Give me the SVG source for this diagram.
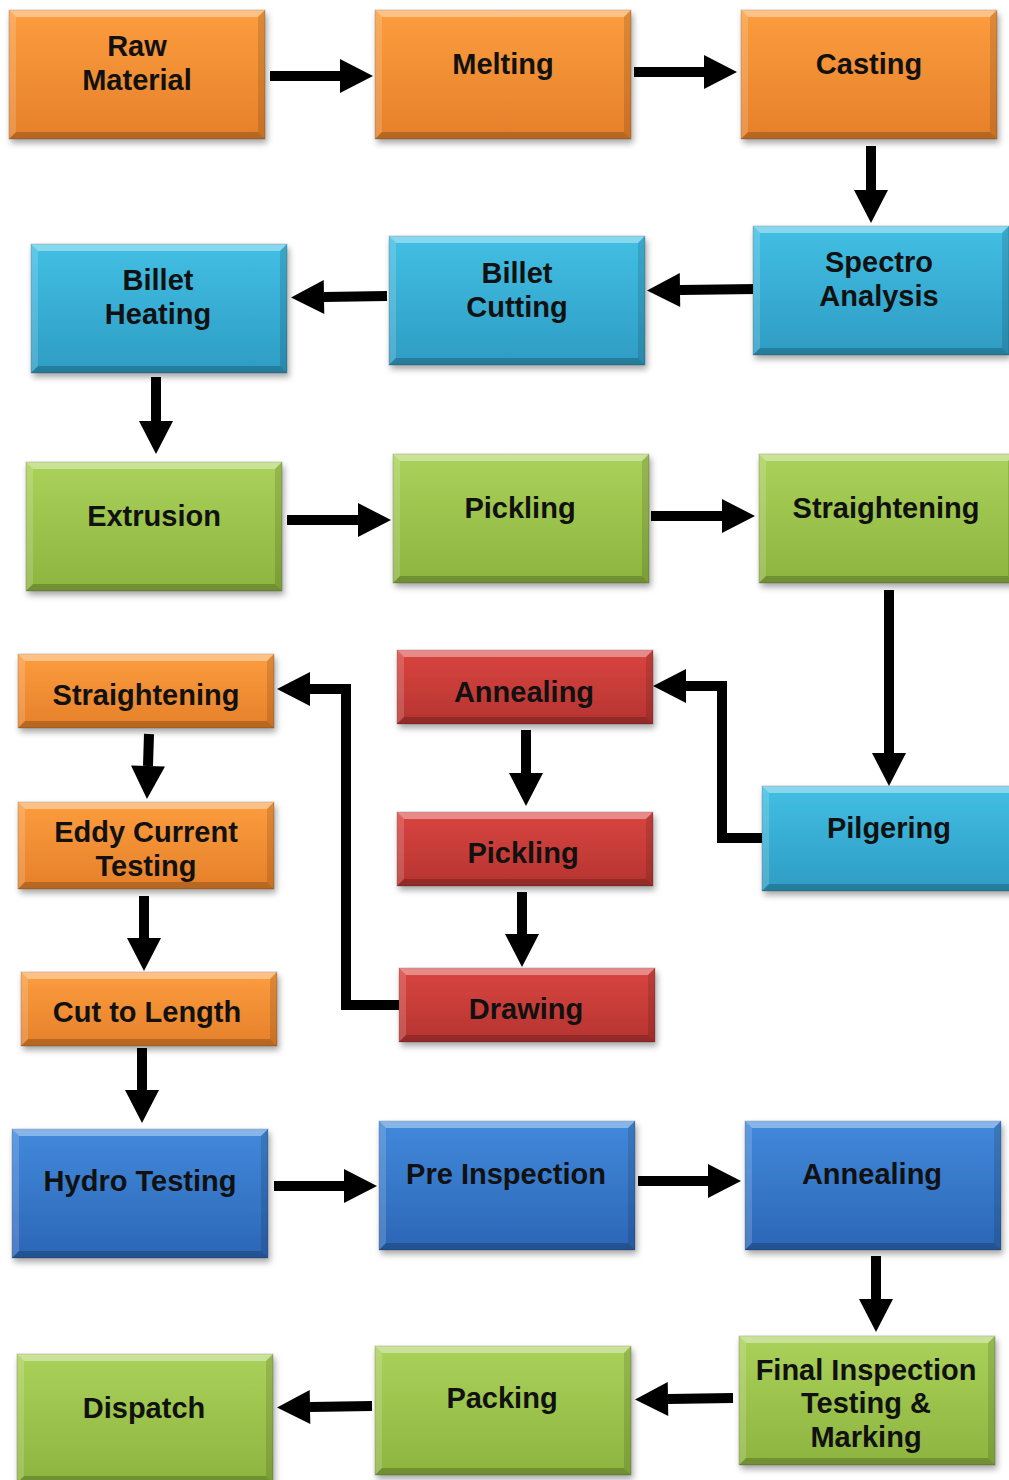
<svg xmlns="http://www.w3.org/2000/svg" xmlns:xlink="http://www.w3.org/1999/xlink" width="1009" height="1480" viewBox="0 0 1009 1480">
<style>
.box{stroke:#000;stroke-opacity:0.18;stroke-width:1}
.or{fill:url(#gOr)}
.cy{fill:url(#gCy)}
.gr{fill:url(#gGr)}
.rd{fill:url(#gRd)}
.bl{fill:url(#gBl)}
.hiT{fill:#fff;fill-opacity:0.38}
.hiL{fill:#fff;fill-opacity:0.16}
.loB{fill:#000;fill-opacity:0.2}
.loR{fill:#000;fill-opacity:0.12}
.lbl{font-family:"Liberation Sans",Arial,Helvetica,sans-serif;font-weight:bold;font-size:29px;fill:#111;text-anchor:middle}
.con{fill:none;stroke:#000;stroke-width:10;stroke-linejoin:miter;marker-end:url(#ah)}
</style>
<defs>
<linearGradient id="gOr" x1="0" y1="0" x2="0" y2="1"><stop offset="0" stop-color="#FC9D3E"/><stop offset="1" stop-color="#E5802A"/></linearGradient>
<linearGradient id="gCy" x1="0" y1="0" x2="0" y2="1"><stop offset="0" stop-color="#42BFE4"/><stop offset="1" stop-color="#2E9CC3"/></linearGradient>
<linearGradient id="gGr" x1="0" y1="0" x2="0" y2="1"><stop offset="0" stop-color="#AAD25A"/><stop offset="1" stop-color="#8DB43F"/></linearGradient>
<linearGradient id="gRd" x1="0" y1="0" x2="0" y2="1"><stop offset="0" stop-color="#D94540"/><stop offset="1" stop-color="#B63431"/></linearGradient>
<linearGradient id="gBl" x1="0" y1="0" x2="0" y2="1"><stop offset="0" stop-color="#4289DB"/><stop offset="1" stop-color="#2C66B6"/></linearGradient>
<filter id="sh" x="-10%" y="-10%" width="125%" height="135%"><feDropShadow dx="2" dy="4" stdDeviation="3" flood-color="#000" flood-opacity="0.35"/></filter>
<marker id="ah" markerUnits="userSpaceOnUse" markerWidth="34" markerHeight="34" viewBox="0 0 33 34" refX="0" refY="17" orient="auto"><path d="M0,0 L33,17 L0,34 z" fill="#000"/></marker>
<g id="bevA"><polygon class="hiT" points="0,0 256,0 249,7 7,7"/><polygon class="hiL" points="0,0 7,7 7,122 0,129"/><polygon class="loB" points="0,129 256,129 249,122 7,122"/><polygon class="loR" points="256,0 256,129 249,122 249,7"/></g>
<g id="bevB"><polygon class="hiT" points="0,0 256,0 249,7 7,7"/><polygon class="hiL" points="0,0 7,7 7,67 0,74"/><polygon class="loB" points="0,74 256,74 249,67 7,67"/><polygon class="loR" points="256,0 256,74 249,67 249,7"/></g>
<g id="bevC"><polygon class="hiT" points="0,0 256,0 249,7 7,7"/><polygon class="hiL" points="0,0 7,7 7,80 0,87"/><polygon class="loB" points="0,87 256,87 249,80 7,80"/><polygon class="loR" points="256,0 256,87 249,80 249,7"/></g>
<g id="bevD"><polygon class="hiT" points="0,0 256,0 249,7 7,7"/><polygon class="hiL" points="0,0 7,7 7,98 0,105"/><polygon class="loB" points="0,105 256,105 249,98 7,98"/><polygon class="loR" points="256,0 256,105 249,98 249,7"/></g>
</defs>
<rect width="1009" height="1480" fill="#fff"/>

<g id="connectors">
<path class="con" d="M270,76 H340"/>
<path class="con" d="M634,72 H704"/>
<path class="con" d="M871,146 V190"/>
<path class="con" d="M757,289 L680,290"/>
<path class="con" d="M387,296 L324,297"/>
<path class="con" d="M156,377 V421"/>
<path class="con" d="M287,520 H358"/>
<path class="con" d="M651,516 H722"/>
<path class="con" d="M889,590 V753"/>
<path class="con" d="M762,838 H722 V686 H686"/>
<path class="con" d="M526,730 V773"/>
<path class="con" d="M522,892 V934"/>
<path class="con" d="M399,1005 H346 V689 H310"/>
<path class="con" d="M149,734 L148,766"/>
<path class="con" d="M144,896 V938"/>
<path class="con" d="M142,1048 V1090"/>
<path class="con" d="M274,1186 H344"/>
<path class="con" d="M638,1181 H708"/>
<path class="con" d="M876,1256 V1299"/>
<path class="con" d="M733,1398 L668,1399"/>
<path class="con" d="M372,1406 L310,1407"/>
</g>

<g id="raw-material" transform="translate(9,10)"><rect class="box or" width="256" height="129" filter="url(#sh)"/><use href="#bevA"/><text class="lbl" x="128" y="46">Raw</text><text class="lbl" x="128" y="80">Material</text></g>
<g id="melting" transform="translate(375,10)"><rect class="box or" width="256" height="129" filter="url(#sh)"/><use href="#bevA"/><text class="lbl" x="128" y="64">Melting</text></g>
<g id="casting" transform="translate(741,10)"><rect class="box or" width="256" height="129" filter="url(#sh)"/><use href="#bevA"/><text class="lbl" x="128" y="64">Casting</text></g>

<g id="spectro-analysis" transform="translate(753,226)"><rect class="box cy" width="256" height="129" filter="url(#sh)"/><use href="#bevA"/><text class="lbl" x="126" y="46">Spectro</text><text class="lbl" x="126" y="80">Analysis</text></g>
<g id="billet-cutting" transform="translate(389,236)"><rect class="box cy" width="256" height="129" filter="url(#sh)"/><use href="#bevA"/><text class="lbl" x="128" y="47">Billet</text><text class="lbl" x="128" y="81">Cutting</text></g>
<g id="billet-heating" transform="translate(31,244)"><rect class="box cy" width="256" height="129" filter="url(#sh)"/><use href="#bevA"/><text class="lbl" x="127" y="46">Billet</text><text class="lbl" x="127" y="80">Heating</text></g>

<g id="extrusion" transform="translate(26,462)"><rect class="box gr" width="256" height="129" filter="url(#sh)"/><use href="#bevA"/><text class="lbl" x="128" y="64">Extrusion</text></g>
<g id="pickling-1" transform="translate(393,454)"><rect class="box gr" width="256" height="129" filter="url(#sh)"/><use href="#bevA"/><text class="lbl" x="127" y="64">Pickling</text></g>
<g id="straightening-1" transform="translate(759,454)"><rect class="box gr" width="256" height="129" filter="url(#sh)"/><use href="#bevA"/><text class="lbl" x="127" y="64">Straightening</text></g>

<g id="straightening-2" transform="translate(18,654)"><rect class="box or" width="256" height="74" filter="url(#sh)"/><use href="#bevB"/><text class="lbl" x="128" y="51">Straightening</text></g>
<g id="eddy-current-testing" transform="translate(18,802)"><rect class="box or" width="256" height="87" filter="url(#sh)"/><use href="#bevC"/><text class="lbl" x="128" y="40">Eddy Current</text><text class="lbl" x="128" y="74">Testing</text></g>
<g id="cut-to-length" transform="translate(21,972)"><rect class="box or" width="256" height="74" filter="url(#sh)"/><use href="#bevB"/><text class="lbl" x="126" y="50">Cut to Length</text></g>

<g id="annealing-1" transform="translate(397,650)"><rect class="box rd" width="256" height="74" filter="url(#sh)"/><use href="#bevB"/><text class="lbl" x="127" y="52">Annealing</text></g>
<g id="pickling-2" transform="translate(397,812)"><rect class="box rd" width="256" height="74" filter="url(#sh)"/><use href="#bevB"/><text class="lbl" x="126" y="51">Pickling</text></g>
<g id="drawing" transform="translate(399,968)"><rect class="box rd" width="256" height="74" filter="url(#sh)"/><use href="#bevB"/><text class="lbl" x="127" y="51">Drawing</text></g>
<g id="pilgering" transform="translate(762,786)"><rect class="box cy" width="256" height="105" filter="url(#sh)"/><use href="#bevD"/><text class="lbl" x="127" y="52">Pilgering</text></g>

<g id="hydro-testing" transform="translate(12,1129)"><rect class="box bl" width="256" height="129" filter="url(#sh)"/><use href="#bevA"/><text class="lbl" x="128" y="62">Hydro Testing</text></g>
<g id="pre-inspection" transform="translate(379,1121)"><rect class="box bl" width="256" height="129" filter="url(#sh)"/><use href="#bevA"/><text class="lbl" x="127" y="63">Pre Inspection</text></g>
<g id="annealing-2" transform="translate(745,1121)"><rect class="box bl" width="256" height="129" filter="url(#sh)"/><use href="#bevA"/><text class="lbl" x="127" y="63">Annealing</text></g>

<g id="final-inspection" transform="translate(739,1336)"><rect class="box gr" width="256" height="129" filter="url(#sh)"/><use href="#bevA"/><text class="lbl" x="127" y="44">Final Inspection</text><text class="lbl" x="127" y="77">Testing &amp;</text><text class="lbl" x="127" y="111">Marking</text></g>
<g id="packing" transform="translate(375,1346)"><rect class="box gr" width="256" height="129" filter="url(#sh)"/><use href="#bevA"/><text class="lbl" x="127" y="62">Packing</text></g>
<g id="dispatch" transform="translate(17,1354)"><rect class="box gr" width="256" height="129" filter="url(#sh)"/><use href="#bevA"/><text class="lbl" x="127" y="64">Dispatch</text></g>
</svg>
